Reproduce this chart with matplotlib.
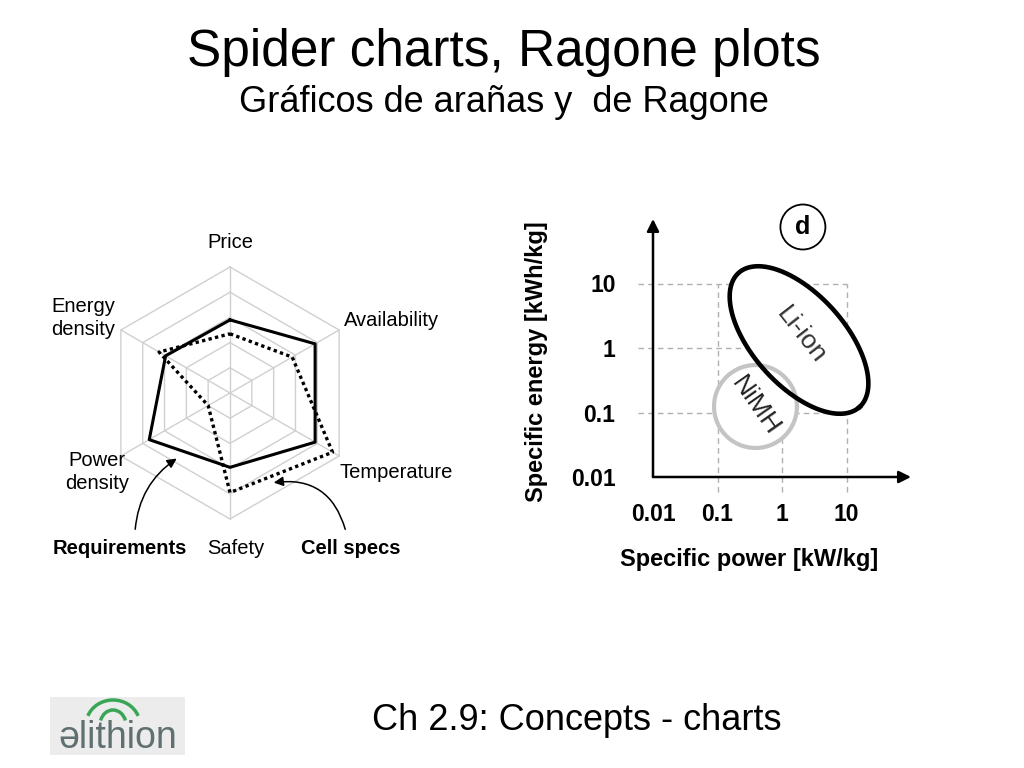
import numpy as np
import matplotlib
matplotlib.use("Agg")
import matplotlib.pyplot as plt
from matplotlib.patches import FancyArrowPatch, Arc, Rectangle

plt.rcParams['font.family'] = ['Liberation Sans', 'DejaVu Sans']

# spider chart data (fraction of outer ring)
axes_names = ["Price", "Availability", "Temperature", "Safety", "Power\ndensity", "Energy\ndensity"]
axes_angles = [90, 30, -30, -90, -150, 150]
requirements = [0.58, 0.78, 0.78, 0.59, 0.74, 0.59]
cell_specs = [0.47, 0.57, 0.94, 0.79, 0.20, 0.65]
rings = [0.2, 0.4, 0.6, 0.8, 1.0]

# ragone data (log10 centres / semi-axes in decades)
ticks = [0.01, 0.1, 1, 10]
tick_labels = ["0.01", "0.1", "1", "10"]
grid_vals = [0.1, 1, 10]
liion = dict(cx=0.264, cy=0.124, a=1.40, b=0.71, ang=-48)
nimh = dict(cx=-0.411, cy=-0.907, a=0.643, b=0.643, ang=0)

fig = plt.figure(figsize=(10.24, 7.68), dpi=100)

fig.text(0.492, 0.931, "Spider charts, Ragone plots", ha='center', va='center', fontsize=37)
fig.text(0.492, 0.866, "Gráficos de arañas y  de Ragone", ha='center', va='center', fontsize=26)
fig.text(0.563, 0.062, "Ch 2.9: Concepts - charts", ha='center', va='center', fontsize=26)

# ---- spider chart ----
CX, CY, R = 230, 393, 126
ax1 = fig.add_axes([40 / 1024, (768 - 583) / 768, 380 / 1024, 380 / 768])
ax1.set_xlim(-190 / R, 190 / R)
ax1.set_ylim(-190 / R, 190 / R)
ax1.axis('off')


def px(x, y):
    return (x - CX) / R, (CY - y) / R


th = np.radians(axes_angles + [axes_angles[0]])
for r in rings:
    ax1.plot(r * np.cos(th), r * np.sin(th), color='#d0d0d0', lw=1, zorder=1)
for a in th[:-1]:
    ax1.plot([0, np.cos(a)], [0, np.sin(a)], color='#d0d0d0', lw=1, zorder=1)

req = np.array(requirements + [requirements[0]])
cs = np.array(cell_specs + [cell_specs[0]])
ax1.plot(req * np.cos(th), req * np.sin(th), color='black', lw=2.2, zorder=3)
ax1.plot(cs * np.cos(th), cs * np.sin(th), color='black', lw=2.4, ls=(0, (1, 1)), zorder=3)

label_pos = [(230, 242), (392, 320), (396, 472), (236, 549), (97, 472), (83, 318)]
for name, (x, y) in zip(axes_names, label_pos):
    ax1.text(*px(x, y), name, ha='center', va='center', fontsize=14.5, linespacing=1.3)

ax1.text(*px(120, 549), "Requirements", ha='center', va='center', fontsize=14.5, fontweight='bold')
ax1.text(*px(351, 549), "Cell specs", ha='center', va='center', fontsize=14.5, fontweight='bold')

ax1.add_patch(FancyArrowPatch(px(135, 532), px(179, 457), connectionstyle="arc3,rad=-0.25",
                              arrowstyle='-|>', mutation_scale=14, lw=1.1, color='black'))
ax1.add_patch(FancyArrowPatch(px(346, 532), px(271, 483), connectionstyle="arc3,rad=0.45",
                              arrowstyle='-|>', mutation_scale=14, lw=1.1, color='black'))

# ---- ragone plot ----
ax2 = fig.add_axes([653 / 1024, (768 - 477) / 768, 258 / 1024, 258 / 768])
ax2.set_xscale('log')
ax2.set_yscale('log')
ax2.set_xlim(0.01, 100)
ax2.set_ylim(0.01, 100)
for s in ax2.spines.values():
    s.set_visible(False)
ax2.set_xticks(ticks)
ax2.set_xticklabels(tick_labels)
ax2.set_yticks(ticks)
ax2.set_yticklabels(tick_labels)
ax2.minorticks_off()
ax2.tick_params(axis='x', length=0, pad=19, labelsize=16.5)
ax2.tick_params(axis='y', length=0, pad=27, labelsize=16.5)
for t in ax2.get_xticklabels() + ax2.get_yticklabels():
    t.set_fontweight('bold')

for g in grid_vals:
    ax2.plot([0.0058, 10], [g, g], color='#b0b0b0', lw=1, ls=(0, (4, 3)), zorder=1, clip_on=False)
    ax2.plot([g, g], [0.0058, 10], color='#b0b0b0', lw=1, ls=(0, (4, 3)), zorder=1, clip_on=False)


def ellipse(e):
    t = np.linspace(0, 2 * np.pi, 300)
    c, s = np.cos(np.radians(e['ang'])), np.sin(np.radians(e['ang']))
    X = e['cx'] + e['a'] * np.cos(t) * c - e['b'] * np.sin(t) * s
    Y = e['cy'] + e['a'] * np.cos(t) * s + e['b'] * np.sin(t) * c
    return 10 ** X, 10 ** Y


lx, ly = ellipse(liion)
nx, ny = ellipse(nimh)
ax2.fill(lx, ly, color='white', zorder=2)
ax2.fill(nx, ny, color='white', zorder=2)
ax2.plot(nx, ny, color='#c4c4c4', lw=3, zorder=3)
ax2.plot(lx, ly, color='black', lw=3.3, zorder=4)
ax2.text(10 ** 0.30, 10 ** 0.20, "Li-ion", rotation=-52, ha='center', va='center',
         fontsize=19, color='#333333', zorder=5)
ax2.text(10 ** -0.41, 10 ** -0.90, "NiMH", rotation=-55, ha='center', va='center',
         fontsize=19, color='#222222', zorder=5)

ax2.annotate('', xy=(1.0, 0), xytext=(0, 0), xycoords='axes fraction',
             arrowprops=dict(arrowstyle='-|>', lw=1.8, color='black', mutation_scale=18, shrinkA=0, shrinkB=0))
ax2.annotate('', xy=(0, 1.0), xytext=(0, 0), xycoords='axes fraction',
             arrowprops=dict(arrowstyle='-|>', lw=1.8, color='black', mutation_scale=18, shrinkA=0, shrinkB=0))

ax2.text(0.581, 0.969, "d", transform=ax2.transAxes, ha='center', va='center', fontsize=18,
         fontweight='bold', bbox=dict(boxstyle='circle,pad=0.42', fc='white', ec='black', lw=1.3))
ax2.text(0.372, -0.32, "Specific power [kW/kg]", transform=ax2.transAxes, ha='center', va='center',
         fontsize=17, fontweight='bold')
ax2.text(-0.45, 0.446, "Specific energy [kWh/kg]", transform=ax2.transAxes, ha='center', va='center',
         fontsize=17, fontweight='bold', rotation=90)

# ---- logo ----
ax3 = fig.add_axes([50 / 1024, (768 - 755) / 768, 135 / 1024, 58 / 768])
ax3.set_xlim(0, 135)
ax3.set_ylim(0, 58)
ax3.axis('off')
ax3.add_patch(Rectangle((0, 0), 135, 58, color='#ececec', lw=0))
ax3.text(68, 17, "əlithion", ha='center', va='center', fontsize=27, color='#607070')
ax3.add_patch(Arc((63, 30), 54, 50, theta1=20, theta2=160, color='#3aa655', lw=2.5))
ax3.add_patch(Arc((63, 30), 26, 30, theta1=20, theta2=160, color='#3aa655', lw=2.5))

fig.savefig("out.png", dpi=100)
